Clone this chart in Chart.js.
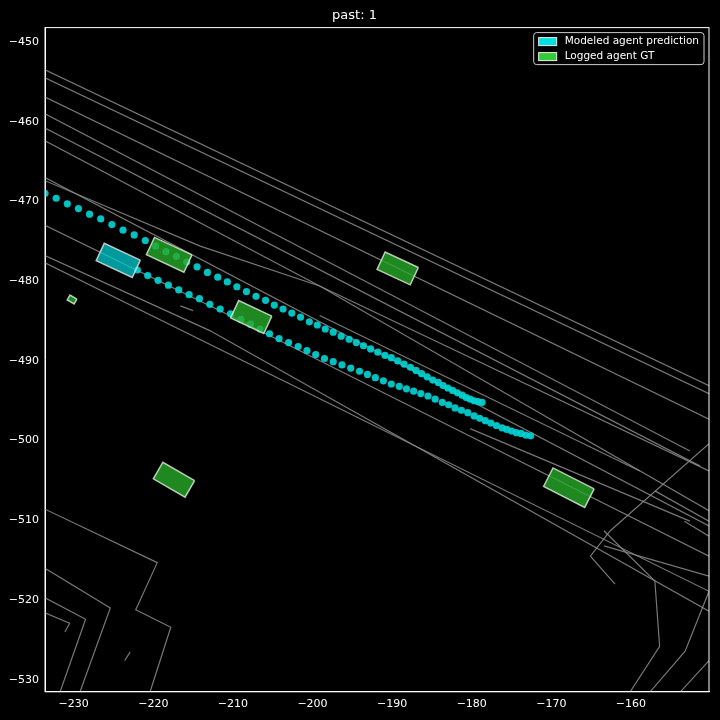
<!DOCTYPE html>
<html><head><meta charset="utf-8">
<script src="https://cdn.jsdelivr.net/npm/chart.js@4"></script>
<style>html,body{margin:0;padding:0;background:#000}#w{width:720px;height:720px}</style>
</head><body><div id="w"><canvas id="c"></canvas></div>
<script>
const titleText = "past: 1";
const legendLabels = ["Modeled agent prediction", "Logged agent GT"];
const xTicks = [-230,-220,-210,-200,-190,-180,-170,-160];
const yTicks = [-450,-460,-470,-480,-490,-500,-510,-520,-530];

// map polylines [x,y] pairs
const mapLines = [
 [[-233.6,-453.5],[-150.2,-493.1]],
 [[-233.6,-454.5],[-150.2,-494.1]],
 [[-233.6,-456.9],[-150.2,-497.3]],
 [[-233.6,-459.0],[-152.6,-501.3]],
 [[-233.6,-460.8],[-151.3,-503.2]],
 [[-233.6,-462.4],[-199.1,-480.6],[-150.2,-503.8]],
 [[-233.6,-467.0],[-150.2,-510.7]],
 [[-233.6,-467.4],[-214.1,-475.6],[-199.1,-480.6],[-150.2,-508.8]],
 [[-233.6,-473.0],[-210.4,-484.3],[-150.2,-514.5]],
 [[-233.6,-476.8],[-212.9,-486.2],[-150.2,-521.4]],
 [[-233.6,-477.7],[-150.2,-518.9]],
 [[-199.1,-484.3],[-158.9,-503.8]],
 [[-180.2,-498.5],[-152.6,-510.1]],
 [[-216.6,-483.1],[-215.0,-483.7]],
 [[-233.6,-508.6],[-219.5,-515.3],[-222.2,-521.2],[-217.8,-523.4],[-220.4,-531.5]],
 [[-233.6,-516.0],[-225.4,-521.0],[-229.2,-531.5]],
 [[-233.6,-519.7],[-228.5,-522.4],[-231.7,-531.5]],
 [[-233.6,-521.6],[-230.5,-522.9],[-231.1,-524.0]],
 [[-223.6,-527.6],[-222.9,-526.5]],
 [[-150.2,-500.4],[-162.6,-511.3],[-165.1,-514.5],[-162.0,-518.0]],
 [[-163.4,-511.3],[-157.0,-517.6],[-156.4,-525.8],[-160.1,-531.5]],
 [[-150.2,-518.9],[-153.2,-526.4],[-157.6,-531.5]],
 [[-150.2,-527.6],[-153.8,-531.5]],
 [[-157.0,-506.3],[-150.2,-510.1]],
 [[-153.3,-510.1],[-150.2,-512.0]],
 [[-163.4,-513.2],[-150.2,-517.0]]
];

const predAX = [-233.6,-232.2,-230.8,-229.4,-228.0,-226.6,-225.2,-223.8,-222.4,-221.0,-219.7,-218.4,-217.1,-215.8,-214.5,-213.2,-211.9,-210.7,-209.5,-208.3,-207.1,-205.9,-204.8,-203.7,-202.6,-201.5,-200.4,-199.4,-198.4,-197.4,-196.4,-195.4,-194.5,-193.6,-192.7,-191.8,-190.9,-190.1,-189.3,-188.5,-187.7,-187.0,-186.3,-185.6,-184.9,-184.2,-183.6,-183.0,-182.4,-181.8,-181.2,-180.7,-180.2,-179.7,-179.2,-178.7];
const predAY = [-469.0,-469.6,-470.3,-470.9,-471.6,-472.2,-472.9,-473.6,-474.2,-474.9,-475.6,-476.3,-476.9,-477.6,-478.2,-478.9,-479.5,-480.1,-480.7,-481.3,-481.9,-482.4,-483.0,-483.5,-484.0,-484.5,-485.1,-485.5,-486.0,-486.4,-486.9,-487.3,-487.7,-488.1,-488.5,-488.9,-489.3,-489.6,-490.0,-490.4,-490.8,-491.2,-491.6,-492.0,-492.4,-492.7,-493.1,-493.4,-493.7,-494.0,-494.3,-494.6,-494.8,-495.0,-495.1,-495.2];
const predBX = [-222.0,-220.7,-219.4,-218.1,-216.8,-215.5,-214.2,-212.9,-211.6,-210.3,-209.0,-207.8,-206.6,-205.4,-204.2,-203.0,-201.8,-200.7,-199.6,-198.5,-197.4,-196.3,-195.2,-194.1,-193.1,-192.1,-191.1,-190.1,-189.1,-188.2,-187.3,-186.4,-185.5,-184.6,-183.7,-182.9,-182.1,-181.3,-180.5,-179.7,-179.0,-178.3,-177.6,-176.9,-176.2,-175.6,-175.0,-174.4,-173.8,-173.2,-172.6];
const predBY = [-478.6,-479.3,-479.9,-480.5,-481.1,-481.7,-482.2,-482.9,-483.5,-484.1,-484.8,-485.4,-486.0,-486.6,-487.2,-487.7,-488.2,-488.7,-489.2,-489.7,-490.1,-490.5,-490.9,-491.3,-491.7,-492.1,-492.5,-492.9,-493.2,-493.5,-493.8,-494.1,-494.4,-494.8,-495.2,-495.5,-495.9,-496.2,-496.5,-496.9,-497.2,-497.5,-497.8,-498.1,-498.4,-498.6,-498.8,-499.0,-499.1,-499.3,-499.4];

// agents: center x, center y, length, width, heading (deg)
const gtX = [-218.0,-207.7,-189.3,-217.4,-167.8,-230.2];
const gtY = [-476.7,-484.5,-478.4,-504.9,-505.9,-482.3];
const gtL = [5.2,4.6,4.6,4.6,5.8,1.0];
const gtW = [2.4,2.4,2.4,2.4,2.6,0.7];
const gtH = [-25,-25,-25,-30,-27,-30];
const modX = [-224.4], modY = [-477.4], modL = [5.0], modW = [2.4], modH = [-25];

function box(cx,cy,l,w,h){
  const a=h*Math.PI/180,c=Math.cos(a),s=Math.sin(a),out=[];
  [[1,1],[-1,1],[-1,-1],[1,-1],[1,1]].forEach(([u,v])=>{
    out.push({x:cx+u*l/2*c-v*w/2*s, y:cy+u*l/2*s+v*w/2*c});
  });
  return out;
}
const CYAN='#00e0e0', GREEN='#32cd32';
const ds=[];
mapLines.forEach(p=>ds.push({type:'line',data:p.map(q=>({x:q[0],y:q[1]})),borderColor:'rgba(140,140,140,0.85)',borderWidth:1.2,pointRadius:0,fill:false,order:5}));
ds.push({type:'scatter',data:predAX.map((x,i)=>({x,y:predAY[i]})),backgroundColor:'rgba(0,215,215,0.9)',borderWidth:0,pointRadius:3.6,order:3});
ds.push({type:'scatter',data:predBX.map((x,i)=>({x,y:predBY[i]})),backgroundColor:'rgba(0,215,215,0.9)',borderWidth:0,pointRadius:3.6,order:3});
modX.forEach((x,i)=>ds.push({type:'line',data:box(x,modY[i],modL[i],modW[i],modH[i]),borderColor:'rgba(220,220,220,0.85)',borderWidth:1.5,backgroundColor:'rgba(0,206,209,0.75)',fill:'shape',pointRadius:0,order:1}));
gtX.forEach((x,i)=>ds.push({type:'line',data:box(x,gtY[i],gtL[i],gtW[i],gtH[i]),borderColor:'rgba(210,230,210,0.85)',borderWidth:1.5,backgroundColor:'rgba(40,170,40,0.8)',fill:'shape',pointRadius:0,order:1}));

const legendPlugin={id:'lg',afterDraw(ch){
  const c=ch.ctx,a=ch.chartArea;c.save();
  c.strokeStyle='#fff';c.lineWidth=1;c.strokeRect(a.left,a.top,a.right-a.left,a.bottom-a.top);
  c.font='10.5px "DejaVu Sans"';c.textBaseline='middle';
  const tw=Math.max(...legendLabels.map(t=>c.measureText(t).width));
  const w=tw+36,h=32,x0=a.right-5-w,y0=a.top+5;
  c.fillStyle='rgba(0,0,0,0.85)';c.strokeStyle='#ccc';c.lineWidth=1;
  c.beginPath();c.roundRect(x0,y0,w,h,3);c.fill();c.stroke();
  [[CYAN,legendLabels[0]],[GREEN,legendLabels[1]]].forEach((it,i)=>{
    const yy=y0+9+i*15;
    c.fillStyle=it[0];c.fillRect(x0+5,yy-4,18,8);c.strokeStyle='#eee';c.strokeRect(x0+5,yy-4,18,8);
    c.fillStyle='#fff';c.fillText(it[1],x0+31,yy);
  });
  c.restore();
}};
const bg={id:'bg',beforeDraw(ch){ch.ctx.fillStyle='#000';ch.ctx.fillRect(0,0,ch.width,ch.height);}};
const fmt=v=>(v<0?'\u2212':'')+Math.abs(v);

new Chart(document.getElementById('c'),{
  data:{datasets:ds},
  options:{responsive:true,maintainAspectRatio:false,animation:false,
    layout:{padding:{left:0,right:11,top:0,bottom:7}},
    plugins:{legend:{display:false},tooltip:{enabled:false},
      title:{display:true,text:titleText,color:'#fff',font:{family:'DejaVu Sans',size:13,weight:'normal'},padding:{top:8,bottom:4}}},
    scales:{
      x:{type:'linear',min:-233.6,max:-150.2,grid:{display:false,drawTicks:true,tickLength:4,color:'#fff'},border:{color:'#fff'},
        afterBuildTicks:s=>{s.ticks=xTicks.map(v=>({value:v}));},
        ticks:{color:'#fff',font:{family:'DejaVu Sans',size:11},padding:2,autoSkip:false,maxRotation:0,callback:fmt}},
      y:{type:'linear',min:-531.5,max:-448.2,grid:{display:false,tickLength:4},border:{color:'#fff'},
        afterBuildTicks:s=>{s.ticks=yTicks.map(v=>({value:v}));},
        afterFit:s=>{s.width=45;},
        ticks:{color:'#fff',font:{family:'DejaVu Sans',size:11},padding:2,autoSkip:false,callback:fmt}}
    }},
  plugins:[bg,legendPlugin]
});
</script></body></html>
